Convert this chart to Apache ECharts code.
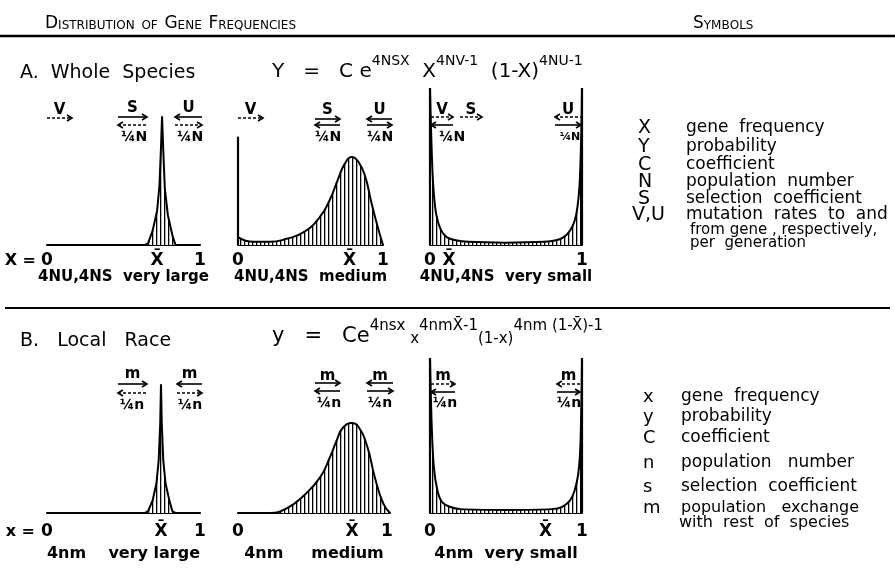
<!DOCTYPE html>
<html>
<head>
<meta charset="utf-8">
<script src="https://cdn.jsdelivr.net/npm/echarts@6/dist/echarts.min.js"></script>
<style>html,body{margin:0;background:#fff}#main{width:895px;height:568px}</style>
</head>
<body>
<div id="main"></div>
<script>
// gene frequency (0..1) and relative probability (0..100)
var a1X = [0, 0.64, 0.66, 0.69, 0.72, 0.735, 0.745, 0.752, 0.76, 0.77, 0.79, 0.82, 0.84, 1];
var a1Y = [0, 0, 1, 9, 22, 38, 62, 82, 60, 36, 19, 6, 0, 0];
var a2X = [0, 0.106, 0.22, 0.336, 0.45, 0.566, 0.634, 0.69, 0.738, 0.784, 0.83, 0.876, 0.92, 0.968, 1];
var a2Y = [5, 2, 2, 4, 8, 18, 29, 42, 52, 56, 53, 44, 27, 10, 0];
var a3X = [0, 0.008, 0.02, 0.04, 0.07, 0.11, 0.17, 0.25, 0.5, 0.75, 0.83, 0.88, 0.92, 0.95, 0.97, 0.985, 0.995, 1];
var a3Y = [100, 70, 40, 20, 10, 5, 3, 2, 1.5, 2, 3, 5, 9, 15, 24, 40, 70, 100];
var b1X = [0, 0.64, 0.66, 0.69, 0.715, 0.73, 0.74, 0.745, 0.75, 0.76, 0.775, 0.8, 0.82, 0.84, 1];
var b1Y = [0, 0, 1, 8, 19, 34, 58, 83, 58, 34, 19, 8, 1, 0, 0];
var b2X = [0, 0.21, 0.32, 0.43, 0.54, 0.605, 0.65, 0.69, 0.75, 0.79, 0.85, 0.9, 0.956, 1];
var b2Y = [0, 0, 3, 11, 23, 36, 47, 55, 58, 56, 43, 23, 6, 0];
var b3X = [0, 0.01, 0.025, 0.05, 0.08, 0.13, 0.2, 0.5, 0.8, 0.87, 0.92, 0.95, 0.975, 0.99, 1];
var b3Y = [100, 60, 30, 14, 7, 4, 2.5, 2, 2.5, 4, 8, 14, 25, 45, 100];

// tick positions: 0, X-bar, 1
var a1Ticks = [0, 0.72, 1];
var a2Ticks = [0, 0.77, 1];
var a3Ticks = [0, 0.125, 1];
var b1Ticks = [0, 0.745, 1];
var b2Ticks = [0, 0.75, 0.98];
var b3Ticks = [0, 0.76, 1];

var aCaptions = ['4NU,4NS  very large', '4NU,4NS  medium', '4NU,4NS  very small'];
var bCaptions = ['4nm    very large', '4nm     medium', '4nm  very small'];

var aSymbols = ['X', 'Y', 'C', 'N', 'S', 'V,U', '', ''];
var aMeanings = ['gene  frequency', 'probability', 'coefficient', 'population  number', 'selection  coefficient',
  'mutation  rates  to  and', 'from gene , respectively,', 'per  generation'];
var bSymbols = ['x', 'y', 'C', 'n', 's', 'm', ''];
var bMeanings = ['gene  frequency', 'probability', 'coefficient', 'population   number', 'selection  coefficient',
  'population   exchange', 'with  rest  of  species'];

var FONT = '"DejaVu Sans", sans-serif';
var myChart = echarts.init(document.getElementById('main'));

var hatch = document.createElement('canvas');
hatch.width = 4; hatch.height = 4;
var hctx = hatch.getContext('2d');
hctx.fillStyle = '#fff'; hctx.fillRect(0, 0, 4, 4);
hctx.fillStyle = '#000'; hctx.fillRect(0, 0, 1.3, 4);

function zip(xs, ys) {
    return xs.map(function (x, i) { return [x, ys[i]]; });
}

var grids = [
    { left: 47, top: 88, width: 153, height: 157 },
    { left: 238, top: 88, width: 145, height: 157 },
    { left: 430, top: 88, width: 152, height: 157 },
    { left: 47, top: 358, width: 153, height: 155 },
    { left: 238, top: 358, width: 152, height: 155 },
    { left: 430, top: 358, width: 152, height: 155 }
];

function xAx(gi, ticks, prefix, caption, gap, margin, capSize) {
    return {
        type: 'value', gridIndex: gi, min: 0, max: 1,
        axisLine: { show: true, onZero: false, lineStyle: { color: '#000', width: 2.2 } },
        axisTick: { show: false }, splitLine: { show: false },
        axisLabel: {
            customValues: ticks, margin: margin, color: '#000', fontSize: 17, fontWeight: 'bold', fontFamily: FONT,
            formatter: function (v) {
                if (v === 0) return prefix ? '{pre|' + prefix + '}0{pad|}' : '0';
                if (v === ticks[2]) return '1';
                return 'X\u0304';
            },
            rich: {
                pre: { width: 36, align: 'right', fontSize: 16, fontWeight: 'bold', fontFamily: FONT, color: '#000' },
                pad: { width: 36 }
            }
        },
        name: caption, nameLocation: 'middle', nameGap: gap,
        nameTextStyle: { color: '#000', fontSize: capSize, fontWeight: 'bold', fontFamily: FONT }
    };
}

function yAx(gi) {
    return { type: 'value', gridIndex: gi, min: 0, max: 100, show: false };
}

function walls(list) {
    return {
        silent: true, symbol: 'none',
        lineStyle: { color: '#000', width: 2.2, type: 'solid' },
        label: { show: false },
        data: list
    };
}

function curve(gi, xs, ys, smooth, edges) {
    var s = {
        type: 'line', xAxisIndex: gi, yAxisIndex: gi, data: zip(xs, ys),
        symbol: 'none', smooth: smooth, silent: true,
        lineStyle: { color: '#000', width: 2 },
        areaStyle: { color: { image: hatch, repeat: 'repeat' }, opacity: 1 }
    };
    if (edges) s.markLine = walls(edges);
    return s;
}

// helpers for the hand lettering and little arrows
function txt(x, y, s, font, extra) {
    var st = { text: s, fill: '#000', font: font, textVerticalAlign: 'middle' };
    if (extra) for (var k in extra) st[k] = extra[k];
    return { type: 'text', x: x, y: y, style: st, silent: true };
}

function arrow(x1, x2, y, dir, dashed) {
    var hx = dir > 0 ? x2 : x1;
    return [
        { type: 'line', silent: true, shape: { x1: x1, y1: y, x2: x2, y2: y },
          style: { stroke: '#000', lineWidth: 1.6, lineDash: dashed ? [3, 2] : null } },
        { type: 'polyline', silent: true, shape: { points: [[hx - dir * 5, y - 3], [hx, y], [hx - dir * 5, y + 3]] },
          style: { stroke: '#000', lineWidth: 1.6, fill: null } }
    ];
}

var arrowGroups = [
    { x: 47, w: 25, ly: 110, l: 'V', ar: [[118, 1, true]] },
    { x: 118, w: 29, ly: 108, l: 'S', ar: [[117, 1, false], [125, -1, true]], lab: '¼N', lx: 134, lyy: 137 },
    { x: 175, w: 27, ly: 108, l: 'U', ar: [[117, -1, false], [125, 1, true]], lab: '¼N', lx: 190, lyy: 137 },
    { x: 238, w: 25, ly: 110, l: 'V', ar: [[118, 1, true]] },
    { x: 315, w: 25, ly: 110, l: 'S', ar: [[119, 1, false], [125, -1, false]], lab: '¼N', lx: 328, lyy: 137 },
    { x: 367, w: 25, ly: 110, l: 'U', ar: [[119, -1, false], [125, 1, false]], lab: '¼N', lx: 380, lyy: 137 },
    { x: 431, w: 22, ly: 110, l: 'V', ar: [[117, 1, true], [125, -1, false]], lab: '¼N', lx: 452, lyy: 137 },
    { x: 460, w: 22, ly: 110, l: 'S', ar: [[117, 1, true]] },
    { x: 555, w: 26, ly: 110, l: 'U', ar: [[117, -1, true], [125, 1, false]], lab: '¼N', lx: 570, lyy: 137, ls: 11 },
    { x: 118, w: 29, ly: 374, l: 'm', ar: [[384, 1, false], [393, -1, true]], lab: '¼n', lx: 132, lyy: 405 },
    { x: 177, w: 25, ly: 374, l: 'm', ar: [[384, -1, false], [393, 1, true]], lab: '¼n', lx: 190, lyy: 405 },
    { x: 315, w: 25, ly: 376, l: 'm', ar: [[383, 1, false], [391, -1, false]], lab: '¼n', lx: 329, lyy: 403 },
    { x: 367, w: 26, ly: 376, l: 'm', ar: [[383, -1, false], [391, 1, false]], lab: '¼n', lx: 380, lyy: 403 },
    { x: 431, w: 24, ly: 376, l: 'm', ar: [[384, 1, true], [392, -1, false]], lab: '¼n', lx: 445, lyy: 403 },
    { x: 557, w: 23, ly: 376, l: 'm', ar: [[384, -1, true], [392, 1, false]], lab: '¼n', lx: 569, lyy: 403 }
];

var graphics = [];
arrowGroups.forEach(function (g) {
    graphics.push(txt(g.x + g.w / 2, g.ly, g.l, 'bold 15px ' + FONT, { textAlign: 'center' }));
    g.ar.forEach(function (a) { graphics = graphics.concat(arrow(g.x, g.x + g.w, a[0], a[1], a[2])); });
    if (g.lab) graphics.push(txt(g.lx, g.lyy, g.lab, 'bold ' + (g.ls || 14) + 'px ' + FONT, { textAlign: 'center' }));
});

// header and section rules
var capsRich = {
    b: { fontSize: 17, fontFamily: FONT, fill: '#000', verticalAlign: 'bottom', lineHeight: 20 },
    s: { fontSize: 12, fontFamily: FONT, fill: '#000', verticalAlign: 'bottom', lineHeight: 17 }
};
graphics.push({
    type: 'text', x: 45, y: 22, silent: true,
    style: { text: '{b|D}{s|ISTRIBUTION}  {s|OF}  {b|G}{s|ENE}  {b|F}{s|REQUENCIES}', textVerticalAlign: 'middle', rich: capsRich }
});
graphics.push({
    type: 'text', x: 693, y: 22, silent: true,
    style: { text: '{b|S}{s|YMB}{s|OLS}', textVerticalAlign: 'middle', rich: capsRich }
});
graphics.push({ type: 'line', silent: true, shape: { x1: 0, y1: 36, x2: 895, y2: 36 }, style: { stroke: '#000', lineWidth: 2.5 } });
graphics.push({ type: 'line', silent: true, shape: { x1: 5, y1: 308, x2: 890, y2: 308 }, style: { stroke: '#000', lineWidth: 2 } });

graphics.push(txt(20, 73, 'A.  Whole  Species', '19px ' + FONT));
graphics.push(txt(20, 341, 'B.   Local   Race', '19px ' + FONT));

graphics.push({
    type: 'text', x: 272, y: 54, silent: true,
    style: {
        text: '{m|Y   =   C e}{s|4NSX}{m|  X}{s|4NV-1}{m|  (1-X)}{s|4NU-1}',
        rich: {
            m: { fontSize: 20, fontFamily: FONT, fill: '#000', lineHeight: 28, verticalAlign: 'bottom' },
            s: { fontSize: 14, fontFamily: FONT, fill: '#000', lineHeight: 16, verticalAlign: 'top' }
        }
    }
});
graphics.push({
    type: 'text', x: 272, y: 319, silent: true,
    style: {
        text: '{m|y   =   Ce}{s|4nsx}{t| x}{s|4nmX\u0304-1}{t|(1-x)}{s|4nm (1-X\u0304)-1}',
        rich: {
            m: { fontSize: 21, fontFamily: FONT, fill: '#000', lineHeight: 28, verticalAlign: 'bottom' },
            s: { fontSize: 15, fontFamily: FONT, fill: '#000', lineHeight: 18, verticalAlign: 'top' },
            t: { fontSize: 15, fontFamily: FONT, fill: '#000', lineHeight: 20, verticalAlign: 'bottom' }
        }
    }
});

var aRowY = [128, 147, 165, 182, 199, 215, 230, 243];
aSymbols.forEach(function (s, i) {
    if (s) graphics.push(txt(s.length > 1 ? 632 : 638, aRowY[i], s, '19px ' + FONT));
    graphics.push(txt(i > 5 ? 690 : 686, aRowY[i], aMeanings[i], (i > 5 ? 15 : 17) + 'px ' + FONT));
});
var bRowY = [397, 417, 438, 463, 487, 508, 523];
bSymbols.forEach(function (s, i) {
    if (s) graphics.push(txt(643, bRowY[i], s, '18px ' + FONT));
    graphics.push(txt(i > 5 ? 679 : 681, bRowY[i], bMeanings[i], (i > 4 ? 16 : 17) + 'px ' + FONT));
});

var option = {
    animation: false,
    backgroundColor: '#fff',
    grid: grids,
    xAxis: [
        xAx(0, a1Ticks, 'X = ', aCaptions[0], 20, 7, 15),
        xAx(1, a2Ticks, null, aCaptions[1], 20, 7, 15),
        xAx(2, a3Ticks, null, aCaptions[2], 20, 7, 15),
        xAx(3, b1Ticks, 'x = ', bCaptions[0], 33, 10, 16),
        xAx(4, b2Ticks, null, bCaptions[1], 33, 10, 16),
        xAx(5, b3Ticks, null, bCaptions[2], 33, 10, 16)
    ],
    yAxis: [yAx(0), yAx(1), yAx(2), yAx(3), yAx(4), yAx(5)],
    series: [
        curve(0, a1X, a1Y, false),
        curve(1, a2X, a2Y, 0.5, [[{ coord: [0, 0] }, { coord: [0, 69] }]]),
        curve(2, a3X, a3Y, 0.3, [[{ coord: [0, 0] }, { coord: [0, 100] }], [{ coord: [1, 0] }, { coord: [1, 100] }]]),
        curve(3, b1X, b1Y, false),
        curve(4, b2X, b2Y, 0.5),
        curve(5, b3X, b3Y, 0.3, [[{ coord: [0, 0] }, { coord: [0, 100] }], [{ coord: [1, 0] }, { coord: [1, 100] }]])
    ],
    graphic: graphics
};
myChart.setOption(option);

window.onresize = function () {
    myChart.resize();
};
</script>
</body>
</html>
